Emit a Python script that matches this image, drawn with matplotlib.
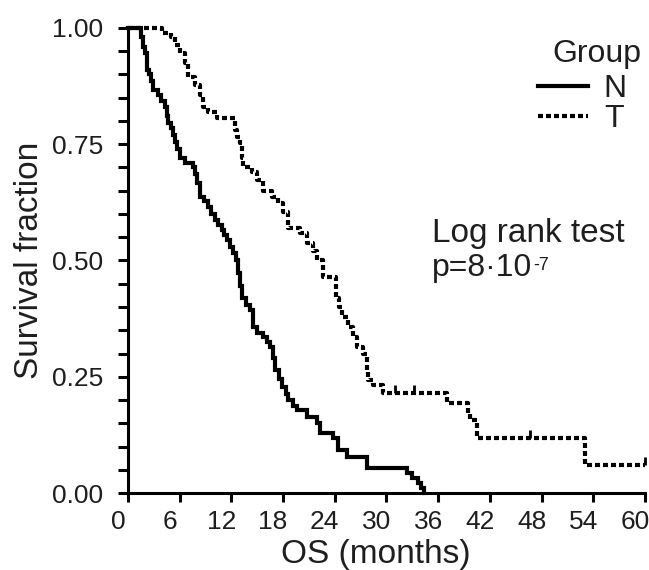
import matplotlib
matplotlib.use("Agg")
import matplotlib.pyplot as plt
from matplotlib.ticker import MultipleLocator, FormatStrFormatter
from matplotlib.transforms import ScaledTranslation

# ----------------------------
# Data
# ----------------------------
n_time = [0, 1.5, 1.8, 2.0, 2.2, 2.5, 2.7, 2.9, 3.5, 3.9, 4.3, 4.5, 4.7, 5.0, 5.2,
          5.5, 5.7, 6.0, 6.6, 7.5, 7.8, 8.0, 8.4, 8.8, 9.3, 9.7, 10.1, 10.5, 10.9,
          11.2, 11.5, 11.9, 12.2, 12.5, 12.8, 13.0, 13.2, 13.7, 14.2, 14.5, 15.0,
          15.7, 16.1, 16.5, 16.8, 17.1, 17.5, 17.9, 18.3, 18.6, 19.1, 19.6, 20.8,
          21.9, 22.3, 23.8, 24.4, 25.4, 27.7, 32.4, 33.0, 33.6, 34.0, 34.4]
n_surv = [1.0, 0.98, 0.96, 0.946, 0.91, 0.90, 0.885, 0.867, 0.856, 0.843, 0.83,
          0.81, 0.795, 0.785, 0.77, 0.755, 0.74, 0.72, 0.71, 0.70, 0.685, 0.667,
          0.637, 0.628, 0.615, 0.60, 0.587, 0.577, 0.566, 0.555, 0.544, 0.53,
          0.516, 0.50, 0.473, 0.445, 0.42, 0.405, 0.394, 0.357, 0.345, 0.336,
          0.325, 0.314, 0.29, 0.265, 0.245, 0.228, 0.212, 0.20, 0.188, 0.178,
          0.164, 0.15, 0.129, 0.118, 0.092, 0.077, 0.054, 0.043, 0.032, 0.022,
          0.011, 0.0]

t_time = [0, 4.0, 5.0, 5.5, 6.0, 6.6, 7.0, 7.8, 8.4, 8.7, 9.3, 10.3, 12.4, 12.7,
          13.0, 13.2, 13.4, 14.4, 15.0, 15.7, 16.7, 17.4, 18.0, 18.6, 20.0, 20.8,
          21.5, 21.9, 22.6, 24.2, 24.5, 24.8, 25.5, 26.1, 26.6, 27.3, 27.7, 27.9,
          28.4, 29.6, 37.0, 39.5, 39.7, 40.5, 53.0, 60.0]
t_surv = [1.0, 0.99, 0.98, 0.963, 0.946, 0.925, 0.895, 0.877, 0.856, 0.83, 0.82,
          0.806, 0.78, 0.765, 0.753, 0.72, 0.70, 0.69, 0.673, 0.65, 0.637, 0.623,
          0.604, 0.57, 0.56, 0.537, 0.52, 0.50, 0.465, 0.42, 0.40, 0.379, 0.357,
          0.336, 0.314, 0.30, 0.265, 0.243, 0.232, 0.215, 0.193, 0.172, 0.157,
          0.118, 0.06, 0.06]

# censored observations on the T curve
t_cens_time = [31.0, 33.2, 46.6, 60.0]
t_cens_surv = [0.215, 0.215, 0.118, 0.06]

x_ticks = [0, 6, 12, 18, 24, 30, 36, 42, 48, 54, 60]

TXT = "#1e1e1e"

# ----------------------------
# Plot
# ----------------------------
plt.rcParams["font.family"] = ["Liberation Sans", "DejaVu Sans"]
plt.rcParams["font.size"] = 19

fig = plt.figure(figsize=(6.49, 5.70), dpi=100)
ax = fig.add_axes([0.197, 0.135, 0.797, 0.816])

ax.step(n_time, n_surv, where="post", color="black", lw=3.0,
        solid_joinstyle="miter", clip_on=False, label="N")
ax.step(t_time, t_surv, where="post", color="black", lw=3.0,
        linestyle=(0, (1.2, 0.72)), clip_on=False, label="T")
ax.plot(t_cens_time, [s + 0.008 for s in t_cens_surv], linestyle="none",
        marker="|", markersize=6, mew=2, color="black", clip_on=False)

ax.set_xlim(0, 60)
ax.set_ylim(0, 1.0)
ax.set_xticks(x_ticks)
ax.yaxis.set_major_locator(MultipleLocator(0.25))
ax.yaxis.set_minor_locator(MultipleLocator(0.05))
ax.yaxis.set_major_formatter(FormatStrFormatter("%.2f"))

for side in ["top", "right"]:
    ax.spines[side].set_visible(False)
for side in ["left", "bottom"]:
    ax.spines[side].set_linewidth(2.2)

ax.tick_params(axis="x", which="major", length=6.5, width=2.2, pad=5.5,
               labelcolor=TXT)
ax.tick_params(axis="y", which="major", length=7, width=2.2, pad=10.5,
               labelcolor=TXT)
ax.tick_params(axis="y", which="minor", length=7, width=2.2)

# x tick labels sit a little left of their ticks in the original
shift = ScaledTranslation(-0.10, 0, fig.dpi_scale_trans)
for lab in ax.get_xticklabels():
    lab.set_transform(lab.get_transform() + shift)

ax.set_xlabel("OS (months)", color=TXT, fontsize=24, va="baseline")
ax.xaxis.set_label_coords(0.48, -0.1505)
ax.set_ylabel("Survival fraction", color=TXT, fontsize=24, va="baseline")
ax.yaxis.set_label_coords(-0.174, 0.5)

leg = ax.legend(loc="upper left", bbox_to_anchor=(0.793, 0.901), frameon=False,
                fontsize=23, handlelength=1.56, handletextpad=0.5,
                labelspacing=0.0, borderaxespad=0, borderpad=0)
for t in leg.get_texts():
    t.set_color(TXT)
fig.text(0.92, 1 - 62 / 570, "Group", ha="center", va="baseline", color=TXT,
         fontsize=23)

fig.text(0.6656, 1 - 242 / 570, "Log rank test", ha="left", va="baseline",
         color=TXT, fontsize=24)
p_txt = fig.text(0.6656, 1 - 276 / 570, "p=8·10", ha="left", va="baseline",
                 color=TXT, fontsize=23)
# exponent, placed against the end of the p-value text
ax.annotate("-7", xy=(1.0, 1.0), xycoords=p_txt, xytext=(1, -3),
            textcoords="offset points", ha="left", va="top", color=TXT,
            fontsize=13, annotation_clip=False)

fig.savefig("out.png", dpi=100)
plt.close(fig)
